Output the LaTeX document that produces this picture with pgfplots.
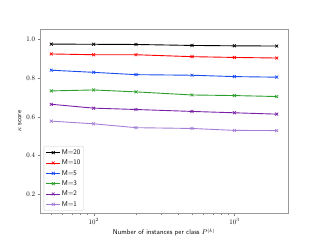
\documentclass[border=0pt]{standalone}
\usepackage{pgfplots}
\pgfplotsset{compat=1.18}
\definecolor{cM20}{rgb}{0,0,0}
\definecolor{cM10}{rgb}{1,0,0}
\definecolor{cM5}{HTML}{1A4CF0}
\definecolor{cM3}{HTML}{2CA02C}
\definecolor{cM2}{HTML}{7A1FA8}
\definecolor{cM1}{HTML}{A57ED6}
\begin{document}
\begin{tikzpicture}
\useasboundingbox (0,0) rectangle (6.4in,4.8in);
\begin{axis}[
  at={(0.8in,0.528in)}, anchor=south west,
  scale only axis, width=4.96in, height=3.696in,
  xmode=log, xmin=41.6, xmax=2404,
  ymin=0.1, ymax=1.055,
  ytick={0.2,0.4,0.6,0.8,1.0},
  yticklabel style={/pgf/number format/fixed,/pgf/number format/precision=1,/pgf/number format/fixed zerofill},
  tick align=outside, tick pos=left,
  axis line style={gray!80},
  major tick length=3.5pt, minor tick length=2pt,
  xlabel={\sffamily Number of instances per class $P^{(k)}$},
  ylabel={$\kappa$ \sffamily score},
  legend style={at={(0.015,0.015)}, anchor=south west, font=\sffamily, draw=gray!40, rounded corners=2pt, inner sep=3pt, row sep=2.5pt},
  legend cell align=left,
  legend image code/.code={\draw[mark repeat=2,mark phase=2] plot coordinates {(0cm,0cm) (0.35cm,0cm) (0.7cm,0cm)};},
  every axis plot/.append style={line width=1.3pt, mark=x, mark size=3pt, mark options={line width=1pt}},
]
\addplot[color=cM20] coordinates {(50,0.976) (100,0.975) (200,0.974) (500,0.969) (1000,0.967) (2000,0.966)};
\addlegendentry{M=20}
\addplot[color=cM10] coordinates {(50,0.925) (100,0.921) (200,0.921) (500,0.911) (1000,0.907) (2000,0.904)};
\addlegendentry{M=10}
\addplot[color=cM5] coordinates {(50,0.841) (100,0.830) (200,0.818) (500,0.815) (1000,0.808) (2000,0.805)};
\addlegendentry{M=5}
\addplot[color=cM3] coordinates {(50,0.734) (100,0.739) (200,0.729) (500,0.713) (1000,0.710) (2000,0.705)};
\addlegendentry{M=3}
\addplot[color=cM2] coordinates {(50,0.665) (100,0.645) (200,0.638) (500,0.628) (1000,0.621) (2000,0.614)};
\addlegendentry{M=2}
\addplot[color=cM1] coordinates {(50,0.578) (100,0.564) (200,0.544) (500,0.540) (1000,0.530) (2000,0.529)};
\addlegendentry{M=1}
\end{axis}
\end{tikzpicture}
\end{document}
